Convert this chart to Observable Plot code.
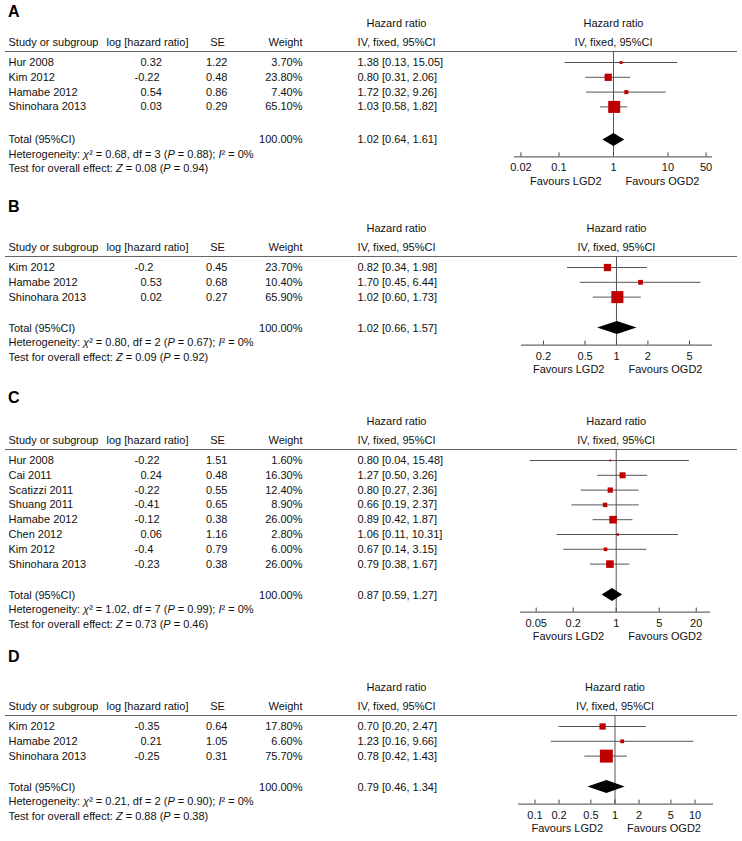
<!DOCTYPE html>
<html><head><meta charset="utf-8">
<script src="https://cdn.jsdelivr.net/npm/d3@7"></script>
<script src="https://cdn.jsdelivr.net/npm/@observablehq/plot@0.6"></script>
<style>
body{margin:0;background:#fff;}
#root{position:relative;width:742px;height:841px;background:#fff;overflow:hidden;}
.lbl{position:absolute;left:8px;font:bold 16px/16px "Liberation Sans",Arial,sans-serif;color:#000;}
.p{position:absolute;}
</style></head><body><div id="root"></div>
<script>
// ---------- Panel A ----------
const studiesA = ["Hur 2008", "Kim 2012", "Hamabe 2012", "Shinohara 2013"];
const logHRA = [0.32, -0.22, 0.54, 0.03];
const seA = [1.22, 0.48, 0.86, 0.29];
const weightA = [3.7, 23.8, 7.4, 65.1];
const hrA = [1.38, 0.80, 1.72, 1.03];
const loA = [0.13, 0.31, 0.32, 0.58];
const hiA = [15.05, 2.06, 9.26, 1.82];
const totalA = [1.02, 0.64, 1.61];
const totalWeightA = 100;
const hetA = ["0.68", "3", "0.88", "0"];
const testA = ["0.08", "0.94"];
const ticksA = [0.02, 0.1, 1, 10, 50];

// ---------- Panel B ----------
const studiesB = ["Kim 2012", "Hamabe 2012", "Shinohara 2013"];
const logHRB = [-0.2, 0.53, 0.02];
const seB = [0.45, 0.68, 0.27];
const weightB = [23.7, 10.4, 65.9];
const hrB = [0.82, 1.70, 1.02];
const loB = [0.34, 0.45, 0.60];
const hiB = [1.98, 6.44, 1.73];
const totalB = [1.02, 0.66, 1.57];
const totalWeightB = 100;
const hetB = ["0.80", "2", "0.67", "0"];
const testB = ["0.09", "0.92"];
const ticksB = [0.2, 0.5, 1, 2, 5];

// ---------- Panel C ----------
const studiesC = ["Hur 2008", "Cai 2011", "Scatizzi 2011", "Shuang 2011", "Hamabe 2012", "Chen 2012", "Kim 2012", "Shinohara 2013"];
const logHRC = [-0.22, 0.24, -0.22, -0.41, -0.12, 0.06, -0.4, -0.23];
const seC = [1.51, 0.48, 0.55, 0.65, 0.38, 1.16, 0.79, 0.38];
const weightC = [1.6, 16.3, 12.4, 8.9, 26.0, 2.8, 6.0, 26.0];
const hrC = [0.80, 1.27, 0.80, 0.66, 0.89, 1.06, 0.67, 0.79];
const loC = [0.04, 0.50, 0.27, 0.19, 0.42, 0.11, 0.14, 0.38];
const hiC = [15.48, 3.26, 2.36, 2.37, 1.87, 10.31, 3.15, 1.67];
const totalC = [0.87, 0.59, 1.27];
const totalWeightC = 100;
const hetC = ["1.02", "7", "0.99", "0"];
const testC = ["0.73", "0.46"];
const ticksC = [0.05, 0.2, 1, 5, 20];

// ---------- Panel D ----------
const studiesD = ["Kim 2012", "Hamabe 2012", "Shinohara 2013"];
const logHRD = [-0.35, 0.21, -0.25];
const seD = [0.64, 1.05, 0.31];
const weightD = [17.8, 6.6, 75.7];
const hrD = [0.70, 1.23, 0.78];
const loD = [0.20, 0.16, 0.42];
const hiD = [2.47, 9.66, 1.43];
const totalD = [0.79, 0.46, 1.34];
const totalWeightD = 100;
const hetD = ["0.21", "2", "0.90", "0"];
const testD = ["0.88", "0.38"];
const ticksD = [0.1, 0.2, 0.5, 1, 2, 5, 10];

const headers = ["Study or subgroup", "log [hazard ratio]", "SE", "Weight", "IV, fixed, 95%CI"];
const groupTitle = "Hazard ratio";
const favours = ["Favours LGD2", "Favours OGD2"];

// ---------- layout ----------
const FONT = '"Liberation Sans", Arial, sans-serif';
const FS = 11;
const INK = "#111";
const ROWH = 14.8;
const TOP = 48;
const TABLE_W = 500, FOREST_W = 237, FOREST_X = 500;
const col = {study: 8, loghr: 140, se: 227, weight: 302, ci: 357, hr: 396};

const panels = [
  {label: "A", row0: 62, gap: 33, studies: studiesA, logHR: logHRA, se: seA, weight: weightA, hr: hrA, lo: loA, hi: hiA, total: totalA, totalW: totalWeightA, het: hetA, test: testA, ticks: ticksA,
   domain: [Math.pow(10, -1.817), Math.pow(10, 1.817)], range: [14, 212], labelY: 12},
  {label: "B", row0: 267, gap: 31, studies: studiesB, logHR: logHRB, se: seB, weight: weightB, hr: hrB, lo: loB, hi: hiB, total: totalB, totalW: totalWeightB, het: hetB, test: testB, ticks: ticksB,
   domain: [Math.pow(10, -0.909), Math.pow(10, 0.919)], range: [21, 212], labelY: 207},
  {label: "C", row0: 460, gap: 31, studies: studiesC, logHR: logHRC, se: seC, weight: weightC, hr: hrC, lo: loC, hi: hiC, total: totalC, totalW: totalWeightC, het: hetC, test: testC, ticks: ticksC,
   domain: [Math.pow(10, -1.556), Math.pow(10, 1.533)], range: [20, 210], labelY: 398},
  {label: "D", row0: 725.5, gap: 31, studies: studiesD, logHR: logHRD, se: seD, weight: weightD, hr: hrD, lo: loD, hi: hiD, total: totalD, totalW: totalWeightD, het: hetD, test: testD, ticks: ticksD,
   domain: [Math.pow(10, -1.206), Math.pow(10, 1.231)], range: [18, 213], labelY: 657}
];

const svgNS = "http://www.w3.org/2000/svg";
function italicize(svg) {
  svg.querySelectorAll("text").forEach(t => {
    const s = t.textContent;
    if (s.indexOf("_") < 0) return;
    t.textContent = "";
    s.split("_").forEach((part, i) => {
      const ts = document.createElementNS(svgNS, "tspan");
      ts.textContent = part;
      if (i % 2) ts.setAttribute("font-style", "italic");
      t.appendChild(ts);
    });
  });
}

const fmtTick = d => String(d);
const root = document.getElementById("root");

panels.forEach(cfg => {
  const n = cfg.studies.length;
  const u = v => v / ROWH; // pixel offset -> row units
  const hrHeadRow = u(-39), ivHeadRow = u(-20), ruleRow = u(-11);
  const totalRow = (n - 1) + u(cfg.gap);
  const hetRow = totalRow + u(14.5), testRow = totalRow + u(29);
  const axisRow = totalRow + u(17);
  const tickLabRow = axisRow + u(11), favRow = axisRow + u(24.5);
  const H = Math.ceil(TOP + axisRow * ROWH + 34);
  const y = {type: "linear", domain: [-TOP / ROWH, (H - TOP) / ROWH], range: [0, H], axis: null};

  const rows = cfg.studies.map((s, i) => ({
    study: s, row: i, logHR: cfg.logHR[i], se: cfg.se[i], w: cfg.weight[i],
    hr: cfg.hr[i], lo: cfg.lo[i], hi: cfg.hi[i]
  }));
  const ciText = (h, l, r) => `${h.toFixed(2)} [${l.toFixed(2)}, ${r.toFixed(2)}]`;
  const T = (data, o) => Plot.text(data, {fontSize: FS, fill: INK, ...o});

  const lab = document.createElement("div");
  lab.className = "lbl";
  lab.style.top = (cfg.labelY - 8) + "px";
  lab.textContent = cfg.label;
  root.appendChild(lab);

  // ---- table part ----
  const table = Plot.plot({
    width: TABLE_W, height: H, margin: 0,
    x: {type: "linear", domain: [0, TABLE_W], range: [0, TABLE_W], axis: null},
    y,
    style: {fontFamily: FONT, background: "transparent", overflow: "visible"},
    marks: [
      T([groupTitle], {x: col.hr, y: hrHeadRow, text: d => d, textAnchor: "middle"}),
      T([headers[0]], {x: col.study, y: ivHeadRow, text: d => d, textAnchor: "start"}),
      T([headers[1]], {x: col.loghr + 7, y: ivHeadRow, text: d => d, textAnchor: "middle"}),
      T([headers[2]], {x: col.se - 10, y: ivHeadRow, text: d => d, textAnchor: "middle"}),
      T([headers[3]], {x: col.weight, y: ivHeadRow, text: d => d, textAnchor: "end"}),
      T([headers[4]], {x: col.hr, y: ivHeadRow, text: d => d, textAnchor: "middle"}),
      Plot.ruleY([ruleRow], {x1: 5, x2: TABLE_W, stroke: "#666", strokeWidth: 1}),
      T(rows, {x: col.study, y: "row", text: "study", textAnchor: "start"}),
      T(rows.filter(d => d.logHR >= 0), {x: col.loghr, y: "row", text: d => String(d.logHR), textAnchor: "start"}),
      T(rows.filter(d => d.logHR < 0), {x: col.loghr, dx: -6, y: "row", text: d => String(d.logHR), textAnchor: "start"}),
      T(rows, {x: col.se, y: "row", text: d => d.se.toFixed(2), textAnchor: "end"}),
      T(rows, {x: col.weight, y: "row", text: d => d.w.toFixed(2) + "%", textAnchor: "end"}),
      T(rows, {x: col.ci, y: "row", text: d => ciText(d.hr, d.lo, d.hi), textAnchor: "start"}),
      T(["Total (95%CI)"], {x: col.study, y: totalRow, text: d => d, textAnchor: "start"}),
      T([cfg.totalW], {x: col.weight, y: totalRow, text: d => d.toFixed(2) + "%", textAnchor: "end"}),
      T([cfg.total], {x: col.ci, y: totalRow, text: d => ciText(d[0], d[1], d[2]), textAnchor: "start"}),
      T([cfg.het], {x: col.study, y: hetRow, text: h => `Heterogeneity: _\u03c7_\u00b2 = ${h[0]}, df = ${h[1]} (_P_ = ${h[2]}); _I_\u00b2 = ${h[3]}%`, textAnchor: "start"}),
      T([cfg.test], {x: col.study, y: testRow, text: t => `Test for overall effect: _Z_ = ${t[0]} (_P_ = ${t[1]})`, textAnchor: "start"})
    ]
  });
  italicize(table);
  table.classList.add("p");
  table.style.left = "0px";
  table.style.top = (cfg.row0 - TOP) + "px";
  root.appendChild(table);

  // ---- forest part ----
  const diamond = [
    {y: totalRow - u(6.5), x1: cfg.total[0], x2: cfg.total[0]},
    {y: totalRow, x1: cfg.total[1], x2: cfg.total[2]},
    {y: totalRow + u(6.5), x1: cfg.total[0], x2: cfg.total[0]}
  ];
  const forest = Plot.plot({
    width: FOREST_W, height: H, margin: 0,
    x: {type: "log", domain: cfg.domain, range: cfg.range, axis: null},
    y,
    r: {type: "sqrt", domain: [0, 100], range: [0, 8.4]},
    style: {fontFamily: FONT, background: "transparent", overflow: "visible"},
    marks: [
      T([groupTitle], {x: 1, y: hrHeadRow, text: d => d, textAnchor: "middle"}),
      T([headers[4]], {x: 1, y: ivHeadRow, text: d => d, textAnchor: "middle"}),
      Plot.ruleY([ruleRow], {stroke: "#666", strokeWidth: 1}),
      Plot.ruleX([1], {y1: ruleRow, y2: axisRow, stroke: "#555", strokeWidth: 1}),
      Plot.ruleY(rows, {y: "row", x1: "lo", x2: "hi", stroke: "#555", strokeWidth: 1}),
      Plot.dot(rows, {x: "hr", y: "row", r: "w", symbol: "square", fill: "#c00000", stroke: "none"}),
      Plot.areaX(diamond, {y: "y", x1: "x1", x2: "x2", fill: "#000", curve: "linear"}),
      Plot.ruleY([axisRow], {x1: cfg.domain[0], x2: cfg.domain[1], stroke: "#444", strokeWidth: 1}),
      Plot.ruleX(cfg.ticks, {x: d => d, y1: axisRow - u(4), y2: axisRow, stroke: "#444", strokeWidth: 1}),
      T(cfg.ticks, {x: d => d, y: tickLabRow, text: fmtTick, textAnchor: "middle"}),
      T([favours[0]], {x: 1, y: favRow, dx: -12, text: d => d, textAnchor: "end"}),
      T([favours[1]], {x: 1, y: favRow, dx: 12, text: d => d, textAnchor: "start"})
    ]
  });
  forest.classList.add("p");
  forest.style.left = FOREST_X + "px";
  forest.style.top = (cfg.row0 - TOP) + "px";
  root.appendChild(forest);
});
</script>
</body></html>
